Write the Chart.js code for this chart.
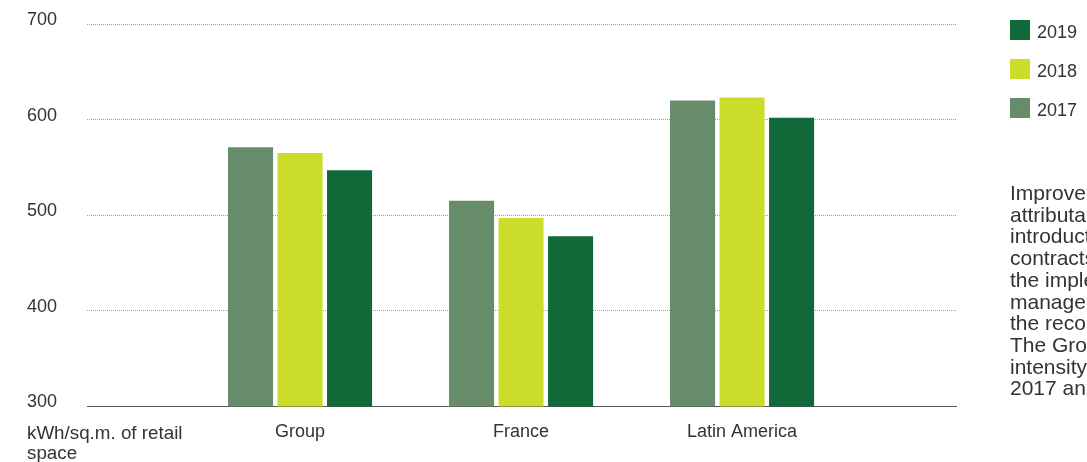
<!DOCTYPE html>
<html>
<head>
<meta charset="utf-8">
<script src="https://cdn.jsdelivr.net/npm/chart.js@4/dist/chart.umd.min.js"></script>
<style>
  html, body { margin: 0; padding: 0; background: #fff; overflow: hidden; }
  body { width: 1087px; height: 462px; position: relative; font-family: "Liberation Sans", Arial, sans-serif; color: #333; }
  #wrap { position: absolute; left: 0; top: 0; width: 1087px; height: 462px; }
  #unit { position: absolute; left: 27px; top: 423px; font-size: 18.8px; line-height: 20px; }
  #legend { position: absolute; left: 1010px; top: 20px; }
  .lg-item { position: absolute; left: 0; height: 20px; white-space: nowrap; }
  .lg-box { position: absolute; left: 0; top: 0; width: 20px; height: 20px; }
  .lg-text { position: absolute; left: 27px; bottom: -1px; font-size: 18px; line-height: 18px; }
  #note { position: absolute; left: 1010px; top: 182px; font-size: 21px; line-height: 21.7px; white-space: nowrap; }
</style>
</head>
<body>
<div id="wrap"><canvas id="chart"></canvas></div>
<div id="unit">kWh/sq.m. of retail<br>space</div>
<div id="legend"></div>
<div id="note">
  Improvements in energy<br>
  attributable to the<br>
  introduction of energy<br>
  contracts, as well as<br>
  the implementation of<br>
  management systems and<br>
  the recording of data.<br>
  The Group's energy<br>
  intensity fell between<br>
  2017 and 2019.
</div>
<script>
// data
const CATEGORIES = ['Group', 'France', 'Latin America'];
const YEARS = ['2017', '2018', '2019'];
const VALUES_2017 = [571, 515, 620];
const VALUES_2018 = [565, 497, 623];
const VALUES_2019 = [547, 478, 602];
const Y_TICKS = [300, 400, 500, 600, 700];

const COLORS = { '2017': '#678c69', '2018': '#cbdc2a', '2019': '#116838' };

Chart.defaults.font.family = '"Liberation Sans", Arial, sans-serif';
Chart.defaults.font.size = 18;
Chart.defaults.color = '#333';

function toPoints(values) {
    return values.map((v, i) => ({ x: i + 1, y: v }));
}

const series = [VALUES_2017, VALUES_2018, VALUES_2019];

const chart = new Chart(document.getElementById('chart'), {
    type: 'bar',
    data: {
        datasets: YEARS.map((yr, k) => ({
            label: yr,
            data: toPoints(series[k]),
            backgroundColor: COLORS[yr],
            borderWidth: 0,
            categoryPercentage: 0.672,
            barPercentage: 0.91
        }))
    },
    options: {
        responsive: true,
        maintainAspectRatio: false,
        animation: false,
        layout: { padding: { left: 27, right: 131, top: 24, bottom: 4 } },
        scales: {
            x: {
                type: 'linear',
                offset: false,
                min: 0.036,
                max: 3.968,
                afterBuildTicks: (scale) => {
                    scale.ticks = CATEGORIES.map((c, i) => ({ value: i + 1 }));
                },
                ticks: {
                    padding: 15,
                    maxRotation: 0,
                    autoSkip: false,
                    callback: (v) => CATEGORIES[v - 1] || ''
                },
                grid: { display: false, drawTicks: false },
                border: { display: true, color: '#555', width: 1 }
            },
            y: {
                min: 300,
                max: 700,
                afterBuildTicks: (scale) => {
                    scale.ticks = Y_TICKS.map(v => ({ value: v }));
                },
                afterFit: (scale) => { scale.width = 60; },
                ticks: {
                    crossAlign: 'far',
                    labelOffset: -4,
                    padding: 0
                },
                grid: {
                    drawTicks: false,
                    color: (ctx) => ctx.tick && ctx.tick.value === 300 ? 'rgba(0,0,0,0)' : '#a0a0a0',
                    lineWidth: 1
                },
                border: { display: false, dash: [1, 1] }
            }
        },
        plugins: {
            legend: { display: false },
            tooltip: { enabled: false }
        }
    }
});

// legend built from the chart datasets (newest year first)
const legendEl = document.getElementById('legend');
chart.data.datasets.slice().reverse().forEach((ds, i) => {
    const item = document.createElement('div');
    item.className = 'lg-item';
    item.style.top = (i * 39) + 'px';
    item.innerHTML = '<span class="lg-box" style="background:' + ds.backgroundColor + '"></span>' +
        '<span class="lg-text">' + ds.label + '</span>';
    legendEl.appendChild(item);
});
</script>
</body>
</html>
